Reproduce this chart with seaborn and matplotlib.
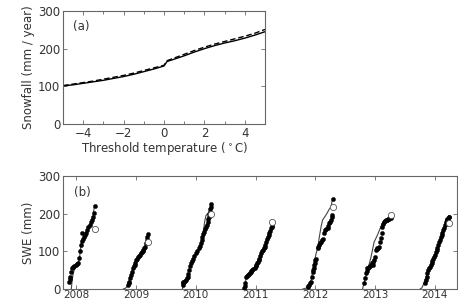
import numpy as np
import pandas as pd
import matplotlib
matplotlib.use("Agg")
import matplotlib.pyplot as plt
import seaborn as sns

# ---- panel (a): snowfall vs threshold temperature ----
threshold_temp = [-5, -4.5, -4, -3.5, -3, -2.5, -2, -1.5, -1, -0.5, 0, 0.15,
                  0.5, 1, 1.5, 2, 2.5, 3, 3.5, 4, 4.5, 5]
snowfall_solid = [101, 104, 108, 112, 116, 121, 126, 132, 139, 146, 154, 166,
                  172, 181, 191, 200, 208, 215, 221, 228, 236, 245]
snowfall_dashed = [102, 106, 110, 114, 119, 124, 129, 135, 142, 149, 156, 168,
                   175, 185, 195, 204, 212, 219, 226, 233, 241, 251]

# ---- panel (b): SWE per season (days from 1 Jan of the labelled year) ----
years = [2008, 2009, 2010, 2011, 2012, 2013, 2014]

obs_days_2008 = [-43, -39, -35, -30, -26, -20, -12, -4, 4, 12, 18, 24, 30, 35, 37, 42,
                 48, 55, 62, 68, 75, 82, 90, 96, 102, 108, 112]
obs_swe_2008 = [19, 26, 33, 45, 55, 58, 60, 64, 67, 70, 82, 100, 117, 128, 150, 134,
                138, 143, 150, 157, 165, 170, 178, 183, 192, 202, 220]
mod_days_2008 = [-30, -24, -18, -12, -4, 6, 16, 24, 32, 42, 52, 62, 72, 82, 92, 102, 112]
mod_swe_2008 = [0, 25, 42, 50, 56, 63, 72, 95, 125, 134, 142, 150, 160, 168, 178, 190, 222]

obs_days_2009 = [-47, -44, -41, -36, -31, -26, -20, -14, -8, -3, 2, 8, 14, 19, 24, 30,
                 35, 40, 45, 50, 55, 60, 65, 70, 75]
obs_swe_2009 = [11, 16, 19, 28, 37, 46, 55, 60, 64, 70, 77, 80, 86, 88, 90, 95,
                99, 102, 104, 108, 112, 122, 130, 137, 145]
mod_days_2009 = [-78, -65, -55, -47, -40, -30, -20, -10, 0, 10, 20, 30, 40, 50, 60, 70, 75]
mod_swe_2009 = [0, 2, 6, 12, 25, 40, 55, 65, 75, 83, 90, 96, 102, 110, 122, 135, 145]

obs_days_2010 = [-80, -78, -75, -70, -65, -60, -55, -50, -45, -40, -35, -29, -24, -19,
                 -10, 1, 10, 21, 26, 31, 36, 41, 46, 52, 57, 62, 67, 72, 75, 78, 82,
                 87, 90, 93, 95]
obs_swe_2010 = [15, 10, 18, 19, 22, 24, 28, 33, 40, 50, 60, 68, 74, 81,
                88, 95, 100, 108, 114, 121, 130, 139, 145, 152, 158, 165, 170, 179,
                186, 192, 198, 205, 212, 218, 227]
mod_days_2010 = [-82, -70, -55, -40, -25, -10, 5, 20, 35, 45, 55, 62, 72, 85, 95]
mod_swe_2010 = [0, 15, 25, 50, 72, 88, 98, 108, 128, 150, 180, 195, 200, 205, 225]

obs_days_2011 = [-70, -67, -62, -57, -52, -47, -42, -36, -30, -25, -20, -13, -6, 0, 4,
                 9, 14, 19, 24, 30, 35, 40, 44, 50, 55, 60, 65, 70, 75, 80, 85, 90,
                 95, 100, 102]
obs_swe_2011 = [3, 8, 15, 33, 35, 37, 40, 42, 46, 48, 50, 53, 55, 60, 64,
                68, 72, 77, 81, 88, 95, 100, 103, 108, 112, 118, 125, 132, 139, 143,
                148, 155, 161, 164, 168]
mod_days_2011 = [-72, -65, -57, -45, -30, -15, 0, 15, 30, 45, 60, 75, 90, 102]
mod_swe_2011 = [0, 10, 30, 38, 45, 52, 60, 73, 88, 105, 120, 138, 155, 170]

obs_days_2012 = [-47, -42, -36, -30, -26, -20, -16, -12, -10, -6, -2, 0, 4, 14, 17, 20,
                 28, 35, 40, 44, 55, 60, 65, 75, 80, 85, 90, 95, 100, 102, 105]
obs_swe_2012 = [6, 8, 11, 15, 19, 33, 46, 50, 55, 64, 70, 77, 81, 108, 112, 117,
                121, 125, 130, 134, 150, 156, 160, 161, 168, 174, 178, 183, 190, 196, 238]
mod_days_2012 = [-77, -60, -45, -35, -25, -15, -5, 5, 15, 25, 35, 44, 55, 70, 85, 95, 105]
mod_swe_2012 = [0, 2, 5, 12, 25, 50, 75, 95, 110, 140, 165, 183, 190, 200, 212, 218, 238]

obs_days_2013 = [-67, -62, -57, -52, -47, -42, -36, -31, -26, -21, -16, -10, -6, -2, 4,
                 9, 14, 19, 24, 30, 35, 41, 44, 50, 55, 60, 65, 70, 75, 80, 85, 90,
                 95, 99]
obs_swe_2013 = [15, 30, 42, 48, 55, 57, 59, 62, 64, 68, 72, 65, 77, 85, 103,
                106, 108, 110, 112, 125, 135, 148, 165, 172, 179, 181, 183, 183, 184,
                186, 187, 190, 192, 188]
mod_days_2013 = [-77, -65, -50, -40, -25, -6, 14, 30, 44, 55, 70, 85, 99]
mod_swe_2013 = [0, 20, 45, 60, 85, 125, 143, 160, 174, 183, 186, 190, 194]

obs_days_2014 = [-61, -55, -50, -46, -41, -35, -30, -25, -20, -15, -10, -5, 0, 5, 10,
                 15, 20, 25, 30, 36, 41, 46, 51, 56, 61, 66, 71, 76, 81, 84, 87]
obs_swe_2014 = [15, 25, 33, 42, 50, 55, 59, 63, 68, 75, 81, 86, 90, 97, 103,
                110, 117, 124, 130, 137, 143, 150, 156, 163, 170, 177, 183, 185, 187,
                190, 192]
mod_days_2014 = [-91, -80, -70, -60, -45, -30, -15, 0, 15, 30, 45, 60, 75, 87]
mod_swe_2014 = [0, 3, 12, 25, 45, 60, 75, 90, 110, 130, 150, 170, 185, 192]

# end-of-season survey values (open circles)
survey_days = [116, 75, 95, 100, 105, 95, 87]
survey_swe = [160, 126, 200, 177, 217, 196, 174]

obs_days = [obs_days_2008, obs_days_2009, obs_days_2010, obs_days_2011,
            obs_days_2012, obs_days_2013, obs_days_2014]
obs_swe = [obs_swe_2008, obs_swe_2009, obs_swe_2010, obs_swe_2011,
           obs_swe_2012, obs_swe_2013, obs_swe_2014]
mod_days = [mod_days_2008, mod_days_2009, mod_days_2010, mod_days_2011,
            mod_days_2012, mod_days_2013, mod_days_2014]
mod_swe = [mod_swe_2008, mod_swe_2009, mod_swe_2010, mod_swe_2011,
           mod_swe_2012, mod_swe_2013, mod_swe_2014]


def to_frame(day_lists, val_lists):
    """Stack per-season lists into one long table with decimal-year x"""
    rows = []
    for yr, days, vals in zip(years, day_lists, val_lists):
        for d, v in zip(days, vals):
            rows.append({"season": yr, "t": yr + d / 365.25, "swe": v})
    return pd.DataFrame(rows)


obs_df = to_frame(obs_days, obs_swe)
mod_df = to_frame(mod_days, mod_swe)
survey_df = pd.DataFrame({"t": [y + d / 365.25 for y, d in zip(years, survey_days)],
                          "swe": survey_swe})
snow_df = pd.DataFrame({"T": threshold_temp, "solid": snowfall_solid,
                        "dashed": snowfall_dashed})

sns.set_style("ticks")
plt.rcParams["font.family"] = ["DejaVu Sans"]
plt.rcParams["font.size"] = 8.5
text_col = "#333333"
spine_col = "#666666"

fig = plt.figure(figsize=(4.58, 3.02), dpi=100)
ax_a = fig.add_axes([0.1376, 0.5894, 0.441, 0.3742])
ax_b = fig.add_axes([0.1376, 0.0430, 0.8603, 0.3742])

# panel (a)
sns.lineplot(data=snow_df, x="T", y="solid", ax=ax_a, color="black", lw=1.0)
sns.lineplot(data=snow_df, x="T", y="dashed", ax=ax_a, color="black", lw=1.0,
             linestyle=(0, (4, 2)))
ax_a.set_xlim(-5, 5)
ax_a.set_ylim(0, 300)
ax_a.set_xticks([-4, -2, 0, 2, 4])
ax_a.set_xticklabels(["\u22124", "\u22122", "0", "2", "4"])
ax_a.set_xticks(np.arange(-5, 6, 1), minor=True)
ax_a.set_yticks([0, 100, 200, 300])
ax_a.set_xlabel("Threshold temperature ($^\\circ$C)", color=text_col, labelpad=0)
ax_a.set_ylabel("Snowfall (mm / year)", color=text_col, labelpad=2)
ax_a.text(0.05, 0.86, "(a)", transform=ax_a.transAxes, color=text_col, va="center")

# panel (b)
sns.lineplot(data=mod_df, x="t", y="swe", units="season", estimator=None, ax=ax_b,
             color="#444444", lw=0.8)
sns.scatterplot(data=obs_df, x="t", y="swe", ax=ax_b, color="black", s=9,
                edgecolor="black", linewidth=0.3, zorder=3)
sns.scatterplot(data=survey_df, x="t", y="swe", ax=ax_b, facecolor="white",
                edgecolor="#555555", s=20, linewidth=0.6, zorder=4)
ax_b.set_xlim(2007.78, 2014.37)
ax_b.set_ylim(0, 300)
ax_b.set_xticks(years)
ax_b.set_xticklabels([str(y) for y in years])
ax_b.set_yticks([0, 100, 200, 300])
ax_b.set_xlabel("")
ax_b.set_ylabel("SWE (mm)", color=text_col, labelpad=2)
ax_b.text(0.027, 0.85, "(b)", transform=ax_b.transAxes, color=text_col, va="center")

for ax in (ax_a, ax_b):
    ax.tick_params(direction="in", which="both", top=True, right=True,
                   colors=spine_col, labelcolor=text_col, labelsize=8.5,
                   length=3, width=0.6, pad=2)
    ax.tick_params(which="minor", length=2)
    for s in ax.spines.values():
        s.set_color(spine_col)
        s.set_linewidth(0.8)

# year labels sit right at the bottom edge; keep them inside the figure
ax_b.tick_params(axis="x", labelsize=7.5, pad=0.5)

fig.savefig("out.png", dpi=100)
